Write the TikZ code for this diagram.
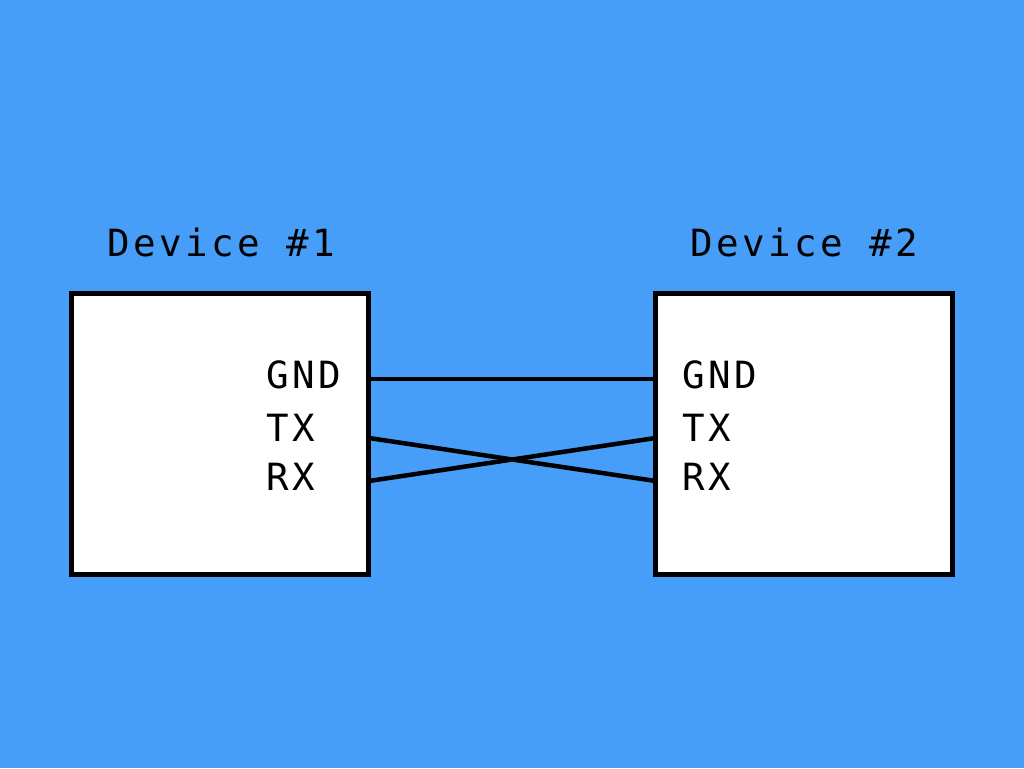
\documentclass[tikz,border=0pt]{standalone}
\usepackage{fontspec}
\newfontfamily\monolbl[LetterSpace=9.5]{DejaVu Sans Mono}
\definecolor{bgblue}{RGB}{71,158,248}
\begin{document}
\begin{tikzpicture}[x=1pt,y=-1pt,
  devbox/.style={draw=black,line width=4.5pt,fill=white,minimum width=297pt,minimum height=281pt,inner sep=0pt,outer sep=0pt,anchor=north west},
  lbl/.style={font=\monolbl\fontsize{37.5}{40}\selectfont,inner sep=0pt,anchor=base west},
  wire/.style={draw=black,line width=4.5pt}]
\fill[bgblue] (0,0) rectangle (1024,768);
\useasboundingbox (0,0) rectangle (1024,768);
\node[devbox] (d1) at (71.5,293.5) {};
\node[devbox] (d2) at (655.5,293.5) {};
\node[lbl] (t1) at (107,256) {Device \#1};
\node[lbl] (t2) at (690,256) {Device \#2};
\node[lbl] (g1) at (266,388) {GND};
\node[lbl] (x1) at (266,441) {TX};
\node[lbl] (r1) at (266,490) {RX};
\node[lbl] (g2) at (682,388) {GND};
\node[lbl] (x2) at (682,441) {TX};
\node[lbl] (r2) at (682,490) {RX};
\coordinate (pg1) at (366,379);
\coordinate (px1) at (369,438);
\coordinate (pr1) at (369,481);
\coordinate (pg2) at (655.5,379);
\coordinate (px2) at (655.5,438);
\coordinate (pr2) at (655.5,481);
\draw[wire] (pg1) -- (pg2);
\draw[wire] (px1) -- (pr2);
\draw[wire] (pr1) -- (px2);
\end{tikzpicture}
\end{document}
